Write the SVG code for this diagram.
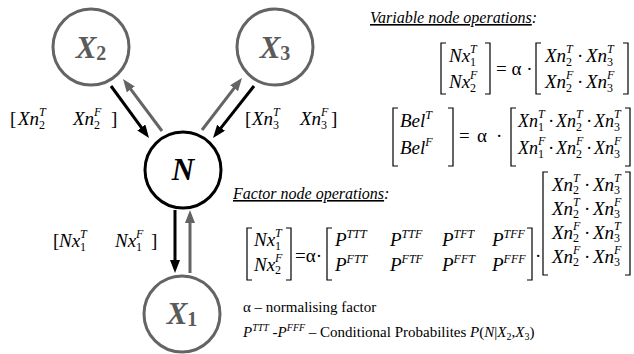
<svg xmlns="http://www.w3.org/2000/svg" width="634" height="354" viewBox="0 0 634 354">
<style>
.nd{fill:#fff;stroke-width:3}
.g{stroke:#646464}
.k{stroke:#000}
.nl{font-family:"Liberation Serif",serif;font-style:italic;font-weight:bold;font-size:31px;text-anchor:middle}
.ns{font-style:normal;font-size:20px}
.m{font-family:"Liberation Serif",serif;font-style:italic;font-size:19px;fill:#000}
.mb{font-family:"Liberation Serif",serif;font-style:italic;font-size:18px;fill:#000}
.u{font-family:"Liberation Serif",serif;font-style:normal;font-size:19px;fill:#000}
.sb{font-style:normal;font-size:12px}
.sp{font-style:italic;font-size:12px}
.br{fill:none;stroke:#000;stroke-width:1.2}
.h{font-family:"Liberation Serif",serif;font-style:italic;font-size:16px}
.t{font-family:"Liberation Serif",serif;font-size:15px}
.ag{stroke:#646464;stroke-width:3;fill:none}
.ak{stroke:#000;stroke-width:3;fill:none}
</style>
<defs>
<marker id="mk" markerUnits="userSpaceOnUse" markerWidth="14" markerHeight="12" refX="4" refY="5" orient="auto"><path d="M0,0 L13,5 L0,10 z" fill="#000"/></marker>
<marker id="mg" markerUnits="userSpaceOnUse" markerWidth="14" markerHeight="12" refX="4" refY="5" orient="auto"><path d="M0,0 L13,5 L0,10 z" fill="#646464"/></marker>
</defs>

<g id="connectors">
<line class="ak" x1="111" y1="86" x2="143.7" y2="130.7" marker-end="url(#mk)"/>
<line class="ag" x1="162" y1="131" x2="128.4" y2="86.2" marker-end="url(#mg)"/>
<line class="ag" x1="202" y1="130" x2="236.5" y2="85.1" marker-end="url(#mg)"/>
<line class="ak" x1="254" y1="86" x2="218.6" y2="130.9" marker-end="url(#mk)"/>
<line class="ak" x1="175" y1="210" x2="175" y2="264" marker-end="url(#mk)"/>
<line class="ag" x1="190" y1="273" x2="190" y2="219" marker-end="url(#mg)"/>
</g>

<g id="node-X2">
<circle class="nd g" cx="91" cy="47" r="38"/>
<text class="nl" x="91" y="58" fill="#5a5a5a">X<tspan class="ns" dy="2">2</tspan></text>
</g>
<g id="node-X3">
<circle class="nd g" cx="275" cy="47" r="38"/>
<text class="nl" x="275" y="58" fill="#5a5a5a">X<tspan class="ns" dy="2">3</tspan></text>
</g>
<g id="node-N">
<circle class="nd k" cx="183" cy="170" r="38"/>
<text class="nl" x="183" y="180" fill="#000">N</text>
</g>
<g id="node-X1">
<circle class="nd g" cx="182" cy="314" r="38"/>
<text class="nl" x="182" y="324" fill="#5a5a5a">X<tspan class="ns" dy="2">1</tspan></text>
</g>

<g id="message-labels">
<text class="u" x="10" y="125">[</text>
<text class="m" x="18" y="125">Xn<tspan class="sb" dy="4">2</tspan><tspan class="sp" dx="-6" dy="-13">T</tspan></text>
<text class="m" x="73" y="125">Xn<tspan class="sb" dy="4">2</tspan><tspan class="sp" dx="-6" dy="-13">F</tspan></text>
<text class="u" x="111" y="125">]</text>

<text class="u" x="245" y="125">[</text>
<text class="m" x="252" y="125">Xn<tspan class="sb" dy="4">3</tspan><tspan class="sp" dx="-6" dy="-13">T</tspan></text>
<text class="m" x="300" y="125">Xn<tspan class="sb" dy="4">3</tspan><tspan class="sp" dx="-6" dy="-13">F</tspan></text>
<text class="u" x="331" y="125">]</text>

<text class="u" x="53" y="247">[</text>
<text class="m" x="59" y="247">Nx<tspan class="sb" dy="4">1</tspan><tspan class="sp" dx="-6" dy="-13">T</tspan></text>
<text class="m" x="115" y="247">Nx<tspan class="sb" dy="4">1</tspan><tspan class="sp" dx="-6" dy="-13">F</tspan></text>
<text class="u" x="151" y="247">]</text>
</g>

<g id="variable-ops">
<text class="h" x="370" y="23"><tspan text-decoration="underline">Variable node operations</tspan>:</text>
<path class="br" d="M446,43 H441 V94 H446 M485,43 H490 V94 H485 M541,43 H536 V94 H541 M623,43 H628 V94 H623"/>
<text class="m" x="449" y="62">Nx<tspan class="sb" dy="4">1</tspan><tspan class="sp" dx="-6" dy="-13">T</tspan></text>
<text class="m" x="449" y="88">Nx<tspan class="sb" dy="4">2</tspan><tspan class="sp" dx="-6" dy="-13">F</tspan></text>
<text class="u" x="496" y="75">= α ·</text>
<text class="m" x="545" y="62">Xn<tspan class="sb" dy="4">2</tspan><tspan class="sp" dx="-6" dy="-13">T</tspan></text>
<text class="u" x="577" y="62">·</text>
<text class="m" x="586" y="62">Xn<tspan class="sb" dy="4">3</tspan><tspan class="sp" dx="-6" dy="-13">T</tspan></text>
<text class="m" x="545" y="88">Xn<tspan class="sb" dy="4">2</tspan><tspan class="sp" dx="-6" dy="-13">F</tspan></text>
<text class="u" x="577" y="88">·</text>
<text class="m" x="586" y="88">Xn<tspan class="sb" dy="4">3</tspan><tspan class="sp" dx="-6" dy="-13">F</tspan></text>

<path class="br" d="M398,108 H393 V166 H398 M448,108 H453 V166 H448 M516,108 H511 V166 H516 M625,108 H630 V166 H625"/>
<text class="m" x="400" y="127">Bel<tspan class="sp" dy="-8">T</tspan></text>
<text class="m" x="400" y="154">Bel<tspan class="sp" dy="-8">F</tspan></text>
<text class="u" x="459" y="142">=</text>
<text class="u" x="477" y="142">α</text>
<text class="u" x="496" y="142">·</text>
<text class="mb" x="518" y="127">Xn<tspan class="sb" dy="4">1</tspan><tspan class="sp" dx="-6" dy="-13">T</tspan></text>
<text class="u" x="548" y="127">·</text>
<text class="mb" x="556" y="127">Xn<tspan class="sb" dy="4">2</tspan><tspan class="sp" dx="-6" dy="-13">T</tspan></text>
<text class="u" x="586" y="127">·</text>
<text class="mb" x="594" y="127">Xn<tspan class="sb" dy="4">3</tspan><tspan class="sp" dx="-6" dy="-13">T</tspan></text>
<text class="mb" x="518" y="154">Xn<tspan class="sb" dy="4">1</tspan><tspan class="sp" dx="-6" dy="-13">F</tspan></text>
<text class="u" x="548" y="154">·</text>
<text class="mb" x="556" y="154">Xn<tspan class="sb" dy="4">2</tspan><tspan class="sp" dx="-6" dy="-13">F</tspan></text>
<text class="u" x="586" y="154">·</text>
<text class="mb" x="594" y="154">Xn<tspan class="sb" dy="4">3</tspan><tspan class="sp" dx="-6" dy="-13">F</tspan></text>
</g>

<g id="factor-ops">
<text class="h" x="233" y="199"><tspan text-decoration="underline">Factor node operations</tspan>:</text>
<path class="br" d="M252,228 H247 V280 H252 M286,228 H291 V280 H286 M332,228 H327 V280 H332 M527,228 H532 V280 H527 M548,172 H543 V275 H548 M625,172 H630 V275 H625"/>
<text class="m" x="254" y="246">Nx<tspan class="sb" dy="4">1</tspan><tspan class="sp" dx="-6" dy="-13">T</tspan></text>
<text class="m" x="254" y="271">Nx<tspan class="sb" dy="3">2</tspan><tspan class="sp" dx="-6" dy="-12">F</tspan></text>
<text class="u" x="295" y="262">=α·</text>
<text class="m" x="335" y="246">P<tspan class="sp" dy="-8">TTT</tspan></text>
<text class="m" x="390" y="246">P<tspan class="sp" dy="-8">TTF</tspan></text>
<text class="m" x="442" y="246">P<tspan class="sp" dy="-8">TFT</tspan></text>
<text class="m" x="492" y="246">P<tspan class="sp" dy="-8">TFF</tspan></text>
<text class="m" x="335" y="271">P<tspan class="sp" dy="-8">FTT</tspan></text>
<text class="m" x="390" y="271">P<tspan class="sp" dy="-8">FTF</tspan></text>
<text class="m" x="442" y="271">P<tspan class="sp" dy="-8">FFT</tspan></text>
<text class="m" x="492" y="271">P<tspan class="sp" dy="-8">FFF</tspan></text>
<text class="u" x="535" y="262">·</text>
<text class="m" x="552" y="191">Xn<tspan class="sb" dy="3">2</tspan><tspan class="sp" dx="-6" dy="-12">T</tspan></text>
<text class="u" x="584" y="191">·</text>
<text class="m" x="593" y="191">Xn<tspan class="sb" dy="3">3</tspan><tspan class="sp" dx="-6" dy="-12">T</tspan></text>
<text class="m" x="552" y="215">Xn<tspan class="sb" dy="3">2</tspan><tspan class="sp" dx="-6" dy="-12">T</tspan></text>
<text class="u" x="584" y="215">·</text>
<text class="m" x="593" y="215">Xn<tspan class="sb" dy="3">3</tspan><tspan class="sp" dx="-6" dy="-12">F</tspan></text>
<text class="m" x="552" y="239">Xn<tspan class="sb" dy="3">2</tspan><tspan class="sp" dx="-6" dy="-12">F</tspan></text>
<text class="u" x="584" y="239">·</text>
<text class="m" x="593" y="239">Xn<tspan class="sb" dy="3">3</tspan><tspan class="sp" dx="-6" dy="-12">T</tspan></text>
<text class="m" x="552" y="263">Xn<tspan class="sb" dy="3">2</tspan><tspan class="sp" dx="-6" dy="-12">F</tspan></text>
<text class="u" x="584" y="263">·</text>
<text class="m" x="593" y="263">Xn<tspan class="sb" dy="3">3</tspan><tspan class="sp" dx="-6" dy="-12">F</tspan></text>

<text class="t" x="243" y="312">α – normalising factor</text>
<text class="t" x="243" y="337"><tspan font-style="italic">P</tspan><tspan font-style="italic" font-size="10" dy="-6">TTT</tspan><tspan dy="6"> -</tspan><tspan font-style="italic">P</tspan><tspan font-style="italic" font-size="10" dy="-6">FFF</tspan><tspan dy="6"> – Conditional Probabilites </tspan><tspan font-style="italic">P</tspan>(<tspan font-style="italic">N</tspan>|<tspan font-style="italic">X</tspan><tspan font-size="10" dy="3">2</tspan><tspan dy="-3">,</tspan><tspan font-style="italic">X</tspan><tspan font-size="10" dy="3">3</tspan><tspan dy="-3">)</tspan></text>
</g>
</svg>
